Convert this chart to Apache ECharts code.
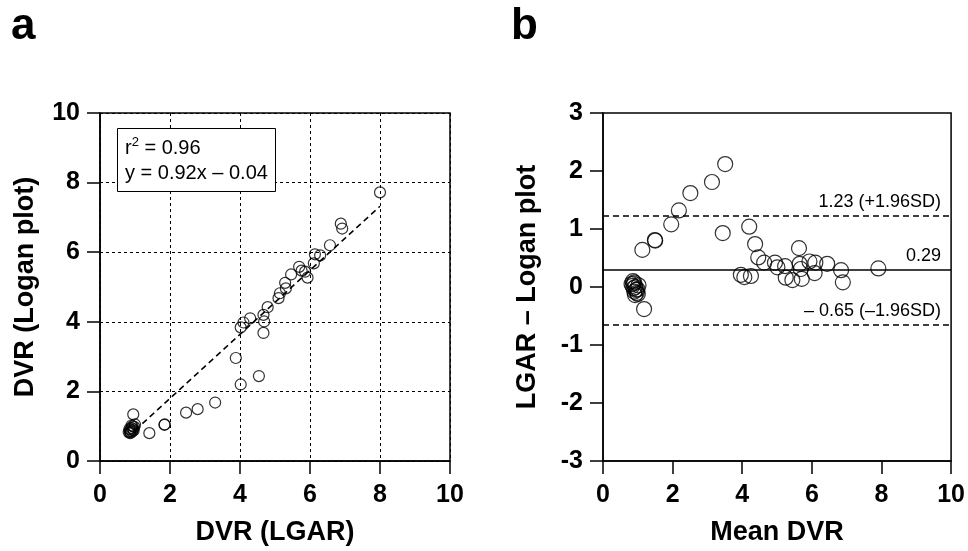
<!DOCTYPE html>
<html>
<head>
<meta charset="utf-8">
<script src="https://cdn.jsdelivr.net/npm/echarts@6/dist/echarts.min.js"></script>
<style>
  html, body { margin: 0; padding: 0; background: #fff; }
  #chart { width: 968px; height: 551px; }
</style>
</head>
<body>
<div id="chart"></div>
<script>
// panel a: DVR by LGAR (x) vs DVR by Logan plot (y)
const lgarDvr = [
  0.82, 0.85, 0.88, 0.90, 0.93, 0.86, 0.95, 1.00, 0.92, 0.98, 0.84, 0.88, 0.96, 0.90,
  0.95, 1.41, 1.84, 1.85, 2.46, 2.79, 3.29, 3.88, 4.02, 4.54,
  4.02, 4.10, 4.29, 4.67, 4.69, 4.67, 4.79, 5.10, 5.14, 5.31, 5.29, 5.46,
  5.69, 5.76, 5.86, 5.93, 6.11, 6.14, 6.29, 6.57, 6.88, 6.92, 8.00
];
const loganDvr = [
  0.83, 0.86, 0.90, 0.95, 1.00, 0.80, 0.92, 1.05, 0.85, 0.98, 0.92, 0.82, 0.88, 1.02,
  1.34, 0.80, 1.04, 1.05, 1.39, 1.49, 1.68, 2.96, 2.20, 2.44,
  3.84, 3.98, 4.10, 4.20, 4.01, 3.68, 4.42, 4.68, 4.82, 4.96, 5.12, 5.36,
  5.58, 5.47, 5.44, 5.27, 5.68, 5.94, 5.91, 6.20, 6.82, 6.68, 7.72
];
const fitSlope = 0.92;
const fitIntercept = -0.04;
const fitRange = [1.0, 8.0];

// panel b: Bland-Altman, mean DVR vs difference
const meanDvr = [
  0.82, 0.85, 0.88, 0.90, 0.93, 0.95, 0.97, 1.00, 0.90, 1.02, 0.86, 0.92, 0.99, 0.88,
  1.18, 1.13, 1.49, 1.50, 1.96, 2.18, 2.51, 3.13, 3.51, 3.44,
  3.96, 4.06, 4.25, 4.20, 4.37, 4.46, 4.63, 4.94, 5.01, 5.23, 5.25, 5.44,
  5.63, 5.65, 5.68, 5.71, 5.93, 6.10, 6.08, 6.44, 6.84, 6.89, 7.91
];
const diffDvr = [
  0.05, 0.02, -0.02, 0.08, 0.00, -0.05, -0.10, -0.12, -0.08, 0.03, 0.10, -0.14, -0.04, 0.06,
  -0.38, 0.64, 0.81, 0.80, 1.08, 1.32, 1.62, 1.81, 2.12, 0.93,
  0.21, 0.17, 0.19, 1.04, 0.74, 0.51, 0.42, 0.42, 0.34, 0.36, 0.16, 0.12,
  0.67, 0.40, 0.31, 0.14, 0.44, 0.42, 0.24, 0.40, 0.29, 0.08, 0.32
];
const limitValues = [1.23, 0.29, -0.65];
const limitLabels = ['1.23 (+1.96SD)', '0.29', '\u2013 0.65 (\u20131.96SD)'];
const limitStyles = ['dashed', 'solid', 'dashed'];

const font = 'Liberation Sans, Arial, sans-serif';

let myChart = echarts.init(document.getElementById('chart'));

function axisBase(min, max, interval, name, gap, labelMargin) {
  return {
    type: 'value',
    min: min,
    max: max,
    interval: interval,
    name: name,
    nameLocation: 'middle',
    nameGap: gap,
    nameTextStyle: { fontFamily: font, fontSize: 27, fontWeight: 'bold', color: '#000' },
    axisLine: { show: true, onZero: false, lineStyle: { color: '#000', width: 1.5 } },
    axisTick: { show: true, inside: false, length: 13, lineStyle: { color: '#000', width: 1.5 } },
    axisLabel: { fontFamily: font, fontSize: 25, fontWeight: 'bold', color: '#000', margin: labelMargin },
    splitLine: { show: false }
  };
}

const gridLine = { show: true, lineStyle: { color: '#000', width: 1, type: [3, 3] } };

const xA = axisBase(0, 10, 2, 'DVR (LGAR)', 58, 22);
xA.splitLine = gridLine;
const yA = axisBase(0, 10, 2, 'DVR (Logan plot)', 61, 20);
yA.splitLine = gridLine;
const xB = axisBase(0, 10, 2, 'Mean DVR', 58, 22);
const yB = axisBase(-3, 3, 1, 'LGAR \u2013 Logan plot', 62, 20);
xB.gridIndex = 1;
yB.gridIndex = 1;

const circle = {
  color: 'rgba(0,0,0,0)',
  borderColor: '#000',
  borderWidth: 1.2
};

const letterStyle = { fontFamily: font, fontSize: 44, fontWeight: 'bold', color: '#000' };

var option = {
  backgroundColor: '#ffffff',
  animation: false,
  title: [
    { text: 'a', left: 6, top: 0, textStyle: letterStyle },
    { text: 'b', left: 506, top: 0, textStyle: letterStyle },
    {
      text: '{t|r}{sup|2}{t| = 0.96}\n{t|y = 0.92x \u2013 0.04}',
      left: 117,
      top: 128,
      padding: [8, 8, 8, 8],
      borderColor: '#000',
      borderWidth: 1,
      backgroundColor: '#fff',
      textStyle: {
        rich: {
          t: { fontFamily: font, fontSize: 20, fontWeight: 'normal', color: '#000', lineHeight: 25 },
          sup: { fontFamily: font, fontSize: 13, fontWeight: 'normal', color: '#000', verticalAlign: 'top', lineHeight: 14 }
        }
      }
    }
  ],
  grid: [
    { left: 100, top: 113, width: 350, height: 349, show: true, borderColor: '#000', borderWidth: 1.5, backgroundColor: 'transparent' },
    { left: 603, top: 113, width: 350, height: 349, show: true, borderColor: '#000', borderWidth: 1.5, backgroundColor: 'transparent' }
  ],
  xAxis: [xA, xB],
  yAxis: [yA, yB],
  series: [
    {
      type: 'scatter',
      xAxisIndex: 0,
      yAxisIndex: 0,
      symbol: 'circle',
      symbolSize: 11,
      itemStyle: circle,
      data: lgarDvr.map((x, i) => [x, loganDvr[i]]),
      z: 3
    },
    {
      type: 'line',
      xAxisIndex: 0,
      yAxisIndex: 0,
      symbol: 'none',
      lineStyle: { color: '#000', width: 1.5, type: [6, 4] },
      data: fitRange.map(x => [x, fitSlope * x + fitIntercept]),
      z: 2
    },
    {
      type: 'scatter',
      xAxisIndex: 1,
      yAxisIndex: 1,
      symbol: 'circle',
      symbolSize: 15,
      itemStyle: circle,
      data: meanDvr.map((x, i) => [x, diffDvr[i]]),
      z: 3,
      markLine: {
        silent: true,
        symbol: 'none',
        animation: false,
        data: limitValues.map((v, i) => ({
          yAxis: v,
          lineStyle: { color: '#000', width: 1.5, type: limitStyles[i] === 'dashed' ? [6, 4] : 'solid' },
          label: {
            show: true,
            position: 'insideEndTop',
            formatter: limitLabels[i],
            fontFamily: font,
            fontSize: 18,
            color: '#000',
            distance: [10, 5]
          }
        }))
      }
    }
  ]
};

myChart.setOption(option);
</script>
</body>
</html>
